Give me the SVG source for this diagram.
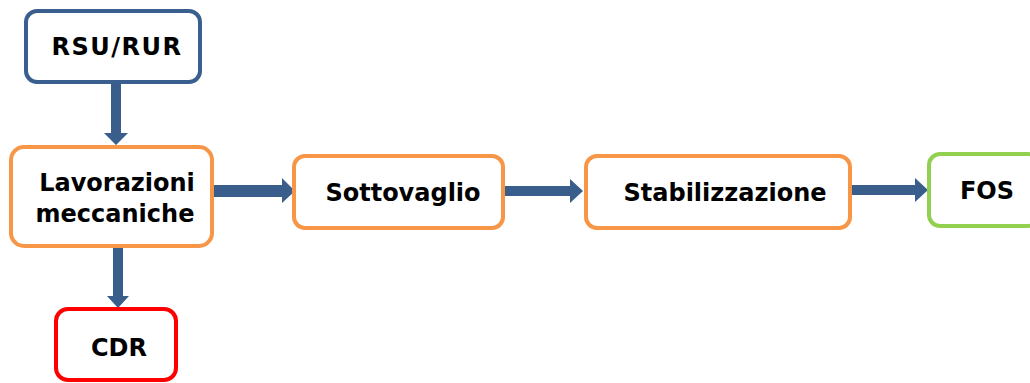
<svg xmlns="http://www.w3.org/2000/svg" width="1030" height="383" viewBox="0 0 1030 383">
<style>
.box{fill:#fff;stroke-width:4}
.blue{stroke:#3A5F8F}
.orange{stroke:#F79646}
.red{stroke:#FF0000}
.green{stroke:#92D050}
.arrow{fill:#3A5E8C}
text{font-family:"DejaVu Sans","Verdana",sans-serif;font-weight:bold;font-size:24px;fill:#000;text-anchor:middle}
</style>
<rect width="1030" height="383" fill="#fff"/>
<g id="connectors">
<polygon class="arrow" points="111,82 121,82 121,133 128,133 116,145 104,133 111,133"/>
<polygon class="arrow" points="113,246 123,246 123,296 129,296 118,308 107,296 113,296"/>
<polygon class="arrow" points="212,185 282,185 282,178 295,191 282,203 282,197 212,197"/>
<polygon class="arrow" points="504,186 570,186 570,179 583,191 570,203 570,196 504,196"/>
<polygon class="arrow" points="851,185 915,185 915,178 928,190 915,202 915,195 851,195"/>
</g>
<g id="node-rsu">
<rect class="box blue" x="26" y="11" width="174" height="71" rx="11"/>
<text x="117" y="55" letter-spacing="1.5">RSU/RUR</text>
</g>
<g id="node-lavorazioni">
<rect class="box orange" x="11" y="147" width="201" height="99" rx="13"/>
<text x="117" y="191">Lavorazioni</text>
<text x="115" y="222">meccaniche</text>
</g>
<g id="node-cdr">
<rect class="box red" x="56" y="309" width="120" height="71" rx="12"/>
<text x="119" y="356">CDR</text>
</g>
<g id="node-sottovaglio">
<rect class="box orange" x="294" y="156" width="209" height="72" rx="11"/>
<text x="403" y="201">Sottovaglio</text>
</g>
<g id="node-stabilizzazione">
<rect class="box orange" x="586" y="156" width="264" height="72" rx="11"/>
<text x="725" y="201">Stabilizzazione</text>
</g>
<g id="node-fos">
<rect class="box green" x="929" y="154" width="110" height="72" rx="11"/>
<text x="987" y="199">FOS</text>
</g>
</svg>
